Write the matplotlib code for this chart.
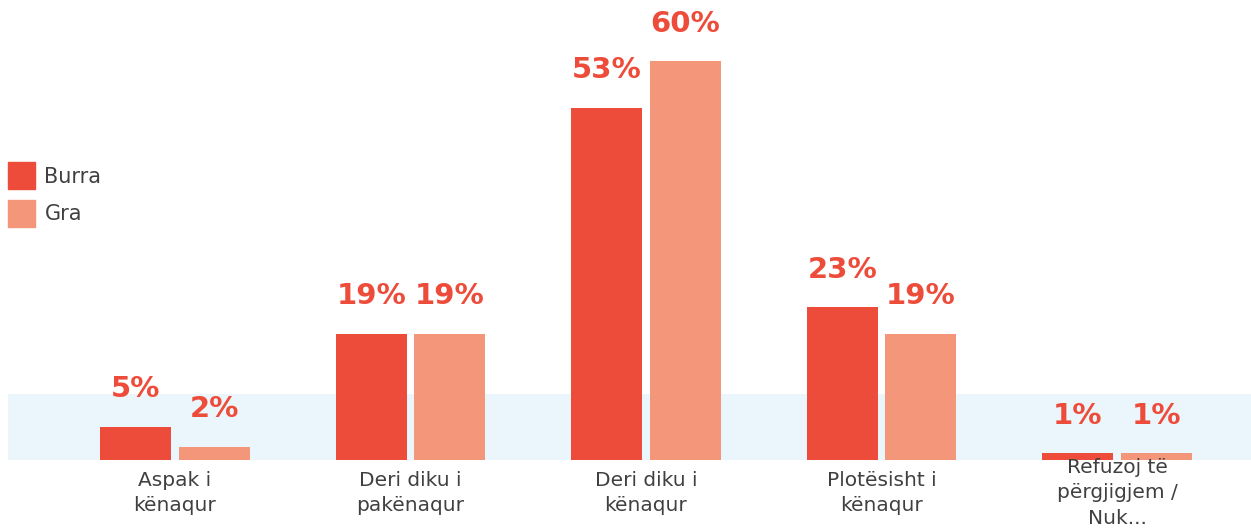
import numpy as np
import matplotlib.pyplot as plt
from matplotlib.patches import Patch

categories = ["Aspak i\nkënaqur", "Deri diku i\npakënaqur", "Deri diku i\nkënaqur",
              "Plotësisht i\nkënaqur", "Refuzoj të\npërgjigjem /\nNuk..."]
burra = [5, 19, 53, 23, 1]
gra = [2, 19, 60, 19, 1]
series_names = ["Burra", "Gra"]

RED = "#EE4C3A"
SALMON = "#F4967A"
BAND = "#EAF6FB"
TEXT = "#404040"

fig = plt.figure(figsize=(12.51, 5.28), dpi=100)
ax = fig.add_axes([0, 68 / 528, 1, 460 / 528])

x = np.arange(len(categories))
width = 0.3015
off = 0.166

# light blue band behind the low values
ax.axhspan(0, 10, xmin=8 / 1251, xmax=1, color=BAND, zorder=0, lw=0)

ax.bar(x - off, burra, width, color=RED, zorder=2)
ax.bar(x + off, gra, width, color=SALMON, zorder=2)

for xs, vals in [(x - off, burra), (x + off, gra)]:
    for xi, v in zip(xs, vals):
        ax.text(xi, v + 3.5, f"{v}%", ha="center", va="bottom", color=RED,
                fontsize=21, fontweight="bold", zorder=3)

for xi, lab in zip(x, categories):
    ax.text(xi, -4.96, lab, ha="center", va="center", color=TEXT, fontsize=14.5,
            linespacing=1.42, clip_on=False, zorder=3)

ax.set_xlim(-175 / 235.5, (1251 - 175) / 235.5)
ax.set_ylim(0, 460 / 6.65)
ax.axis("off")

handles = [Patch(color=RED), Patch(color=SALMON)]
fig.legend(handles, series_names, loc="upper left", bbox_to_anchor=(8 / 1251, 1 - 162 / 528),
           frameon=False, fontsize=15, handlelength=1.3, handleheight=1.65,
           labelspacing=0.49, handletextpad=0.45, borderpad=0, borderaxespad=0,
           labelcolor=TEXT)

fig.savefig("out.png", dpi=100)
